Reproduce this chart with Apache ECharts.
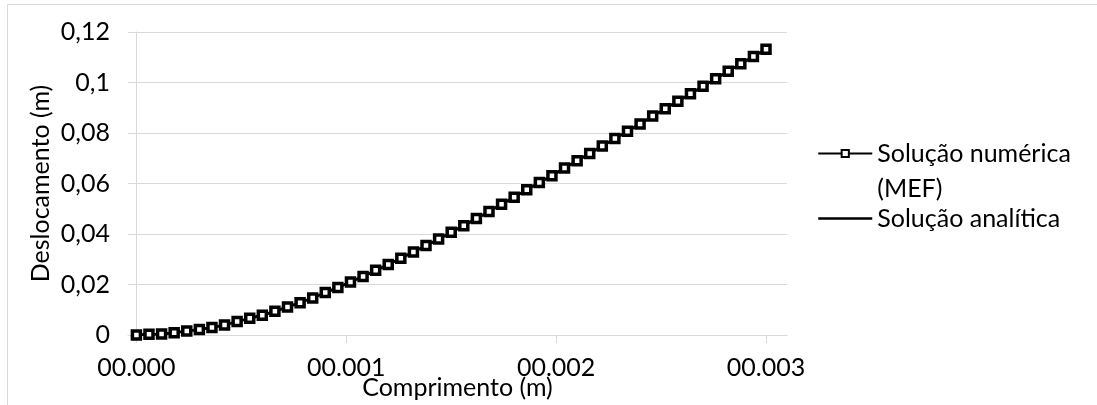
<!DOCTYPE html>
<html>
<head>
<meta charset="utf-8">
<script src="https://cdn.jsdelivr.net/npm/echarts@6/dist/echarts.min.js"></script>
<style>
  html, body { margin: 0; padding: 0; background: #fff; }
  #chart { width: 1097px; height: 405px; }
</style>
</head>
<body>
<div id="chart"></div>
<script>
// comprimento (m)
var comprimento = [
    0.00000, 0.00006, 0.00012, 0.00018, 0.00024, 0.00030, 0.00036, 0.00042, 0.00048, 0.00054,
    0.00060, 0.00066, 0.00072, 0.00078, 0.00084, 0.00090, 0.00096, 0.00102, 0.00108, 0.00114,
    0.00120, 0.00126, 0.00132, 0.00138, 0.00144, 0.00150, 0.00156, 0.00162, 0.00168, 0.00174,
    0.00180, 0.00186, 0.00192, 0.00198, 0.00204, 0.00210, 0.00216, 0.00222, 0.00228, 0.00234,
    0.00240, 0.00246, 0.00252, 0.00258, 0.00264, 0.00270, 0.00276, 0.00282, 0.00288, 0.00294,
    0.00300
];
// deslocamento (m) - MEF
var numerica = [
    0.0000, 0.0003, 0.0004, 0.0009, 0.0016, 0.0022, 0.0030, 0.0040, 0.0053, 0.0066,
    0.0078, 0.0094, 0.0111, 0.0128, 0.0147, 0.0168, 0.0188, 0.0210, 0.0232, 0.0256,
    0.0279, 0.0304, 0.0329, 0.0354, 0.0380, 0.0407, 0.0433, 0.0461, 0.0489, 0.0518,
    0.0546, 0.0575, 0.0604, 0.0631, 0.0661, 0.0690, 0.0719, 0.0749, 0.0778, 0.0807,
    0.0836, 0.0867, 0.0896, 0.0926, 0.0955, 0.0985, 0.1015, 0.1045, 0.1074, 0.1103,
    0.1132
];
// deslocamento (m) - analitica (sobreposta)
var analitica = [
    0.0000, 0.0003, 0.0004, 0.0009, 0.0016, 0.0022, 0.0030, 0.0040, 0.0053, 0.0066,
    0.0078, 0.0094, 0.0111, 0.0128, 0.0147, 0.0168, 0.0188, 0.0210, 0.0232, 0.0256,
    0.0279, 0.0304, 0.0329, 0.0354, 0.0380, 0.0407, 0.0433, 0.0461, 0.0489, 0.0518,
    0.0546, 0.0575, 0.0604, 0.0631, 0.0661, 0.0690, 0.0719, 0.0749, 0.0778, 0.0807,
    0.0836, 0.0867, 0.0896, 0.0926, 0.0955, 0.0985, 0.1015, 0.1045, 0.1074, 0.1103,
    0.1132
];
var xTicks = [0, 0.001, 0.002, 0.003];

function pares(xs, ys) {
    var out = [];
    for (var i = 0; i < xs.length; i++) {
        out.push([xs[i], ys[i]]);
    }
    return out;
}

var fonte = 'Lato';
var cinza = '#d9d9d9';
var tam = 25;

var myChart = echarts.init(document.getElementById('chart'));
var option = {
    animation: false,
    backgroundColor: '#fff',
    textStyle: { fontFamily: fonte },
    graphic: [{
        type: 'rect',
        shape: { x: 7.5, y: 4.5, width: 1200, height: 500 },
        style: { fill: 'none', stroke: cinza, lineWidth: 1 },
        silent: true
    }],
    grid: {
        left: 128,
        right: 310,
        top: 32,
        bottom: 70,
        outerBoundsMode: 'none'
    },
    legend: {
        orient: 'vertical',
        left: 812,
        top: 96,
        itemWidth: 54,
        itemHeight: 9,
        itemGap: -5,
        textStyle: {
            fontFamily: fonte,
            fontSize: tam,
            color: '#000',
            lineHeight: 35
        },
        formatter: function (name) {
            // primeira linha alinhada com o ícone
            if (name.indexOf(' (') > 0) {
                return '\n' + name.replace(' (', '\n(');
            }
            return name;
        },
        data: [
            { name: 'Solução numérica (MEF)' },
            {
                name: 'Solução analítica',
                itemStyle: { color: 'transparent', borderColor: 'transparent', borderWidth: 0 },
                lineStyle: { color: '#000', width: 2.5 }
            }
        ]
    },
    xAxis: {
        type: 'value',
        min: -0.00004,
        max: 0.0031,
        name: 'Comprimento (m)',
        nameLocation: 'middle',
        nameGap: 40,
        nameMoveOverlap: false,
        nameTextStyle: { fontFamily: fonte, fontSize: tam, color: '#000' },
        axisLine: { show: true, onZero: true, lineStyle: { color: cinza, width: 1 } },
        axisTick: {
            show: true,
            length: 8,
            customValues: xTicks,
            lineStyle: { color: cinza, width: 1 }
        },
        axisLabel: {
            fontFamily: fonte,
            fontSize: tam,
            color: '#000',
            margin: 20,
            customValues: xTicks,
            formatter: function (v) { return '0' + v.toFixed(3); }
        },
        splitLine: { show: false }
    },
    yAxis: {
        type: 'value',
        min: 0,
        max: 0.12,
        interval: 0.02,
        name: 'Deslocamento (m)',
        nameLocation: 'middle',
        nameGap: 75,
        nameMoveOverlap: false,
        nameTextStyle: { fontFamily: fonte, fontSize: tam, color: '#000' },
        axisLine: { show: true, onZero: true, lineStyle: { color: cinza, width: 1 } },
        axisTick: { show: false },
        axisLabel: {
            fontFamily: fonte,
            fontSize: tam,
            color: '#000',
            margin: 18,
            formatter: function (v) {
                return parseFloat(v.toFixed(4)).toString().replace('.', ',');
            }
        },
        splitLine: { show: true, lineStyle: { color: cinza, width: 1 } }
    },
    series: [
        {
            name: 'Solução analítica',
            type: 'line',
            showSymbol: false,
            symbol: 'none',
            lineStyle: { color: '#000', width: 2.5 },
            itemStyle: { color: '#000' },
            data: pares(comprimento, analitica),
            z: 2
        },
        {
            name: 'Solução numérica (MEF)',
            type: 'line',
            symbol: 'rect',
            symbolSize: 8,
            lineStyle: { color: '#000', width: 2.5 },
            itemStyle: { color: '#fff', borderColor: '#000', borderWidth: 3.5 },
            data: pares(comprimento, numerica),
            z: 3
        }
    ]
};
myChart.setOption(option);
</script>
</body>
</html>
